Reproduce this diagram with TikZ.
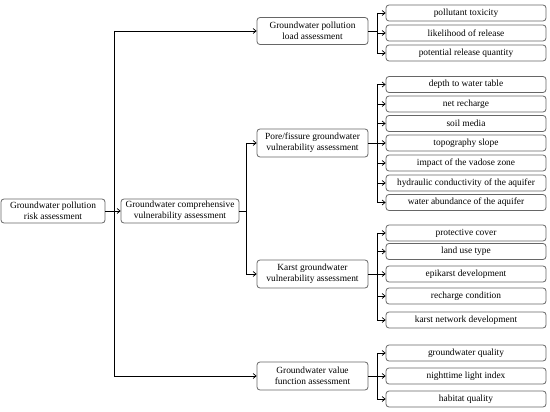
\documentclass[tikz,border=0pt]{standalone}
\usepackage{fontspec}
\setmainfont{Liberation Serif}
\usetikzlibrary{arrows.meta}
\begin{document}
\begin{tikzpicture}[x=1pt,y=-1pt,
  box/.style={draw=black!60, line width=0.8pt, rounded corners=3pt, fill=white, align=center, inner sep=0pt,
     font=\fontsize{9.4}{11}\selectfont},
  leaf/.style={box, minimum width=160pt, minimum height=16pt},
  arr/.style={line width=0.7pt, -{Straight Barb[length=3pt,width=5pt]}},
  ln/.style={line width=0.7pt}]
\useasboundingbox (0,0) rectangle (550,412);
% main nodes
\node[box, minimum width=104pt, minimum height=24pt] (risk) at (53,211) {Groundwater pollution\\risk assessment};
\node[box, minimum width=118pt, minimum height=24pt] (comp) at (180,211) {Groundwater comprehensive\\vulnerability assessment};
\node[box, minimum width=111pt, minimum height=27pt] (load) at (312.5,31) {Groundwater pollution\\load assessment};
\node[box, minimum width=111pt, minimum height=28pt] (pore) at (312.5,143) {Pore/fissure groundwater\\vulnerability assessment};
\node[box, minimum width=111pt, minimum height=28pt] (karst) at (312.5,274) {Karst groundwater\\vulnerability assessment};
\node[box, minimum width=111pt, minimum height=28pt] (value) at (312.5,376) {Groundwater value\\function assessment};
% leaves
\node[leaf] (l1) at (466,13) {pollutant toxicity};
\node[leaf] (l2) at (466,33) {likelihood of release};
\node[leaf] (l3) at (466,53) {potential release quantity};
\node[leaf] (p1) at (466,84.5) {depth to water table};
\node[leaf] (p2) at (466,104) {net recharge};
\node[leaf] (p3) at (466,123.5) {soil media};
\node[leaf] (p4) at (466,143) {topography slope};
\node[leaf] (p5) at (466,163) {impact of the vadose zone};
\node[leaf] (p6) at (466,183) {hydraulic conductivity of the aquifer};
\node[leaf] (p7) at (466,202.5) {water abundance of the aquifer};
\node[leaf] (k1) at (466,233) {protective cover};
\node[leaf] (k2) at (466,251.5) {land use type};
\node[leaf] (k3) at (466,274) {epikarst development};
\node[leaf] (k4) at (466,296) {recharge condition};
\node[leaf] (k5) at (466,320) {karst network development};
\node[leaf] (v1) at (466,353) {groundwater quality};
\node[leaf] (v2) at (466,376) {nighttime light index};
\node[leaf] (v3) at (466,399) {habitat quality};
% trunks
\coordinate (t) at (114,211);
\coordinate (t2) at (246,211);
\coordinate (b) at (377,0);
\draw[arr] (risk) -- (comp);
\draw[ln] (t |- load) -- (t |- value);
\draw[arr] (t |- load) -- (load);
\draw[arr] (t |- value) -- (value);
\draw[ln] (comp) -- (t2);
\draw[ln] (t2 |- pore) -- (t2 |- karst);
\draw[arr] (t2 |- pore) -- (pore);
\draw[arr] (t2 |- karst) -- (karst);
% leaf branches
\draw[ln] (load.east) -- (b |- load);
\draw[ln] (b |- l1) -- (b |- l3);
\foreach \n in {l1,l2,l3} \draw[arr] (b |- \n) -- (\n.west);
\draw[ln] (pore.east) -- (b |- pore);
\draw[ln] (b |- p1) -- (b |- p7);
\foreach \n in {p1,p2,p3,p4,p5,p6,p7} \draw[arr] (b |- \n) -- (\n.west);
\draw[ln] (karst.east) -- (b |- karst);
\draw[ln] (b |- k1) -- (b |- k5);
\foreach \n in {k1,k2,k3,k4,k5} \draw[arr] (b |- \n) -- (\n.west);
\draw[ln] (value.east) -- (b |- value);
\draw[ln] (b |- v1) -- (b |- v3);
\foreach \n in {v1,v2,v3} \draw[arr] (b |- \n) -- (\n.west);
\end{tikzpicture}
\end{document}
